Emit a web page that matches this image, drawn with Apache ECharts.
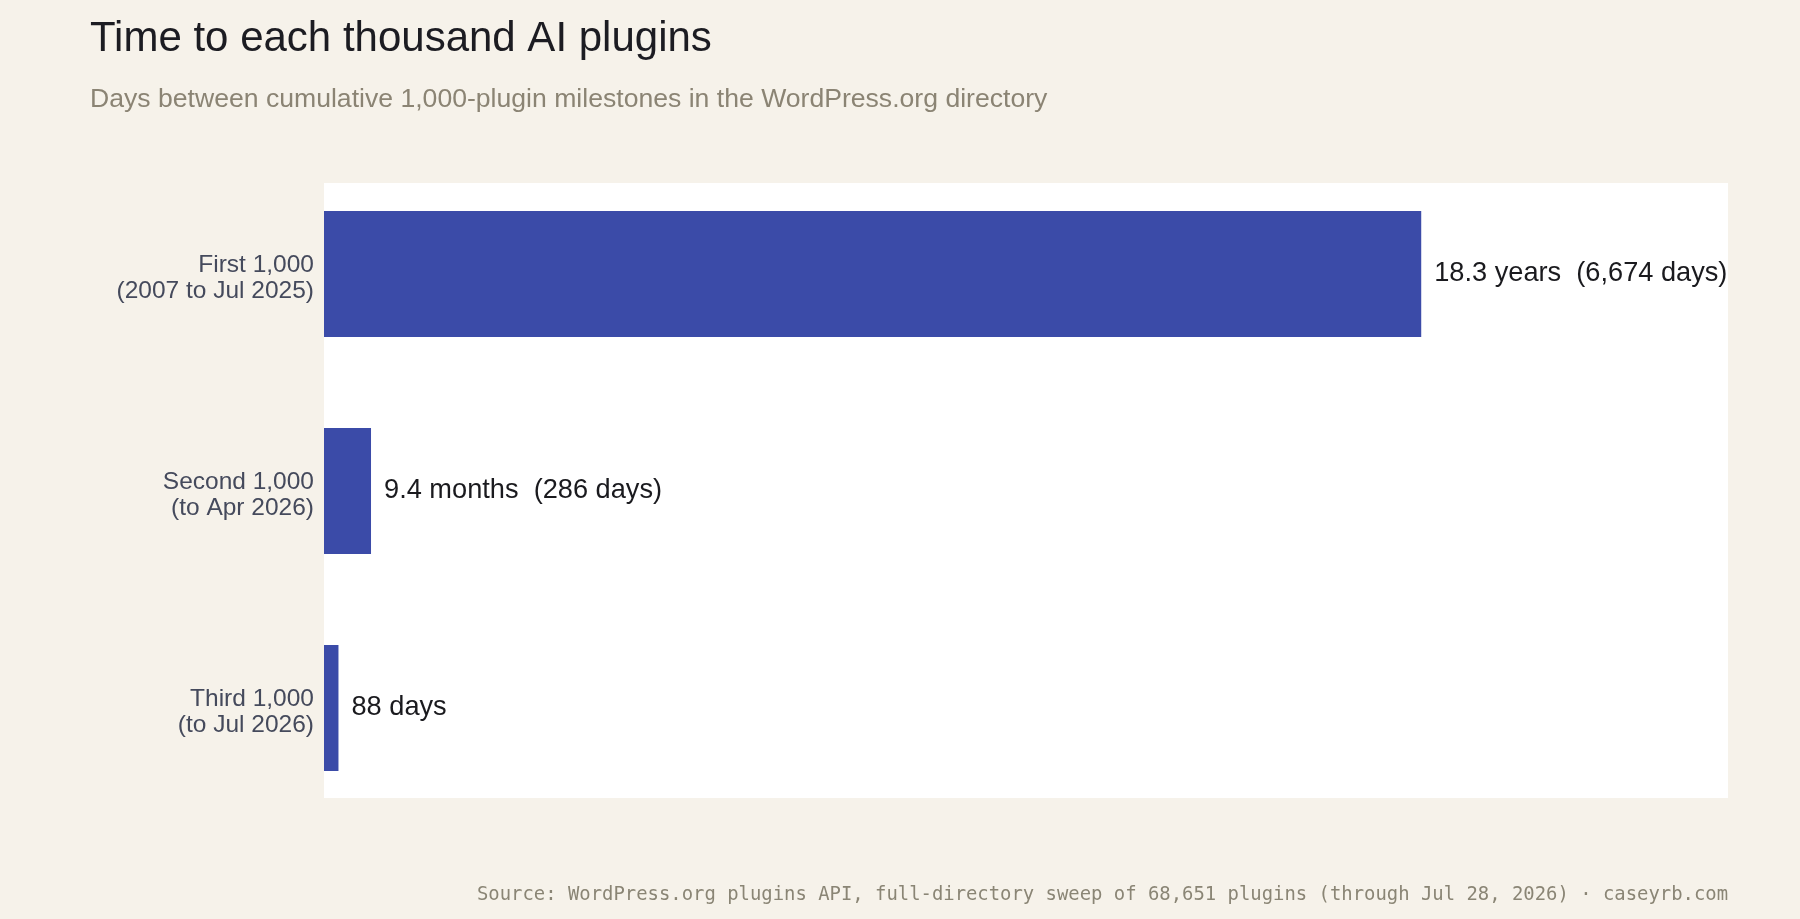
<!DOCTYPE html>
<html>
<head>
<meta charset="utf-8">
<script src="https://cdn.jsdelivr.net/npm/echarts@6/dist/echarts.min.js"></script>
<style>
html,body{margin:0;padding:0;background:#f6f2ea;}
#chart{width:1800px;height:919px;}
</style>
</head>
<body>
<div id="chart"></div>
<script>
const categories = ['First 1,000\n(2007 to Jul 2025)', 'Second 1,000\n(to Apr 2026)', 'Third 1,000\n(to Jul 2026)'];
const days = [6674, 286, 88];
const valueLabels = ['18.3 years  (6,674 days)', '9.4 months  (286 days)', '88 days'];
const xMax = 8540;

const chart = echarts.init(document.getElementById('chart'));
const font = '"Liberation Sans", Arial, Helvetica, sans-serif';
chart.setOption({
  backgroundColor: '#f6f2ea',
  animation: false,
  title: [
    { text: 'Time to each thousand AI plugins', left: 90, top: 18.5, padding: 0,
      textStyle: { fontFamily: font, fontSize: 42, fontWeight: 'normal', color: '#1c1c22' } },
    { text: 'Days between cumulative 1,000-plugin milestones in the WordPress.org directory', left: 90, top: 86, padding: 0,
      textStyle: { fontFamily: font, fontSize: 26.6, fontWeight: 'normal', color: '#8b8474' } },
    { text: 'Source: WordPress.org plugins API, full-directory sweep of 68,651 plugins (through Jul 28, 2026) · caseyrb.com', right: 72, top: 885.5, padding: 0,
      textStyle: { fontFamily: '"DejaVu Sans Mono", monospace', fontSize: 18.9, fontWeight: 'normal', color: '#8a8575' } }
  ],
  grid: [
    { left: 324, right: 72, top: 183, bottom: 121, show: true, backgroundColor: '#ffffff', borderWidth: 0 },
    { left: 324, right: 72, top: 165.5, bottom: 102.5 }
  ],
  xAxis: [
    { gridIndex: 0, type: 'value', show: false },
    { gridIndex: 1, type: 'value', min: 0, max: xMax, show: false }
  ],
  yAxis: [
    { gridIndex: 0, type: 'category', show: false, data: categories },
    { gridIndex: 1, type: 'category', data: categories, inverse: true,
      axisLine: { show: false }, axisTick: { show: false }, splitLine: { show: false },
      axisLabel: { margin: 10, align: 'right',
        formatter: v => '{s| }\n' + v.split('\n').map(s => '{a|' + s + '}').join('\n'),
        rich: {
          a: { fontFamily: font, fontSize: 24.5, lineHeight: 26, color: '#454a5c', align: 'right' },
          s: { fontSize: 1, lineHeight: 9 }
        } } }
  ],
  series: [{
    type: 'bar',
    xAxisIndex: 1, yAxisIndex: 1,
    data: days,
    barWidth: 126,
    itemStyle: { color: '#3b4ba8' },
    label: {
      show: true, position: 'right', distance: 13,
      fontFamily: font, fontSize: 27.2, color: '#1a1a1e',
      formatter: p => valueLabels[p.dataIndex]
    }
  }]
});
</script>
</body>
</html>
